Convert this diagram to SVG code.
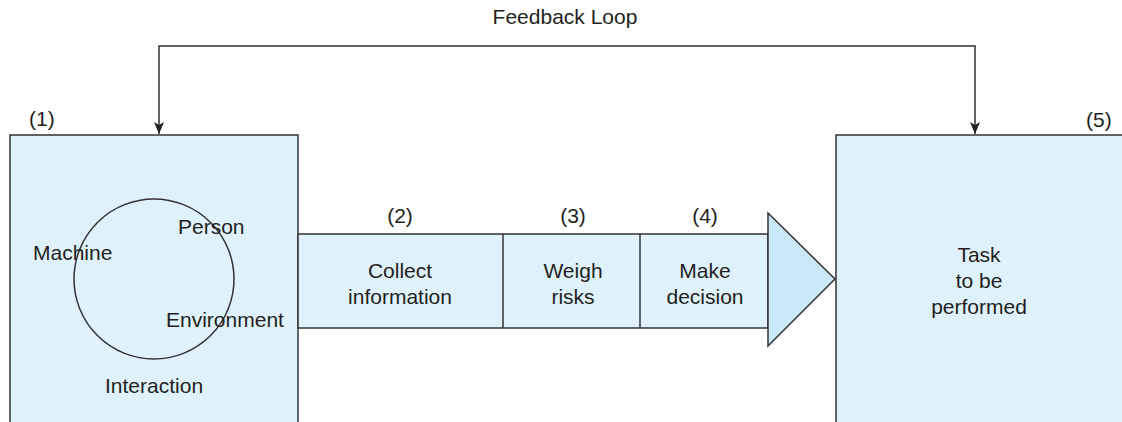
<svg xmlns="http://www.w3.org/2000/svg" width="1122" height="422" viewBox="0 0 1122 422">
<defs>
<style>
text{font-family:"Liberation Sans",Arial,sans-serif;font-size:21px;fill:#231f20}
.c{text-anchor:middle}
.box{fill:#dff2fb;stroke:#333;stroke-width:1.5}
.tri{fill:#c8e8f7;stroke:#333;stroke-width:1.5}
.ln{fill:none;stroke:#333;stroke-width:1.5}
</style>
<marker id="arr" viewBox="0 0 12 10" refX="12" refY="5" markerWidth="12" markerHeight="10" markerUnits="userSpaceOnUse" orient="auto">
<path d="M0,0 L12,5 L0,10 L3,5 Z" fill="#222"/>
</marker>
</defs>
<rect width="1122" height="422" fill="#fff"/>
<g id="node1">
<rect class="box" x="10" y="135" width="288" height="300"/>
<circle class="ln" cx="154" cy="279" r="80"/>
<text x="29" y="126">(1)</text>
<text x="33" y="260">Machine</text>
<text x="178" y="234">Person</text>
<text x="166" y="327">Environment</text>
<text x="105" y="393">Interaction</text>
</g>
<g id="node5">
<rect class="box" x="836" y="135" width="300" height="300"/>
<text x="1086" y="127">(5)</text>
<text class="c" x="979" y="262">Task</text>
<text class="c" x="979" y="288">to be</text>
<text class="c" x="979" y="314">performed</text>
</g>
<g id="process">
<rect class="box" x="298" y="234" width="470" height="94"/>
<line class="ln" x1="503" y1="234" x2="503" y2="328"/>
<line class="ln" x1="640" y1="234" x2="640" y2="328"/>
<polygon class="tri" points="768,213 835,279 768,346"/>
<text class="c" x="400" y="223">(2)</text>
<text class="c" x="573" y="223">(3)</text>
<text class="c" x="705" y="223">(4)</text>
<text class="c" x="400" y="278">Collect</text>
<text class="c" x="400" y="304">information</text>
<text class="c" x="573" y="278">Weigh</text>
<text class="c" x="573" y="304">risks</text>
<text class="c" x="705" y="278">Make</text>
<text class="c" x="705" y="304">decision</text>
</g>
<g id="connectors">
<text class="c" x="565" y="24">Feedback Loop</text>
<path class="ln" d="M565,46 L159,46 L159,134" marker-end="url(#arr)"/>
<path class="ln" d="M565,46 L975,46 L975,134" marker-end="url(#arr)"/>
</g>
</svg>
